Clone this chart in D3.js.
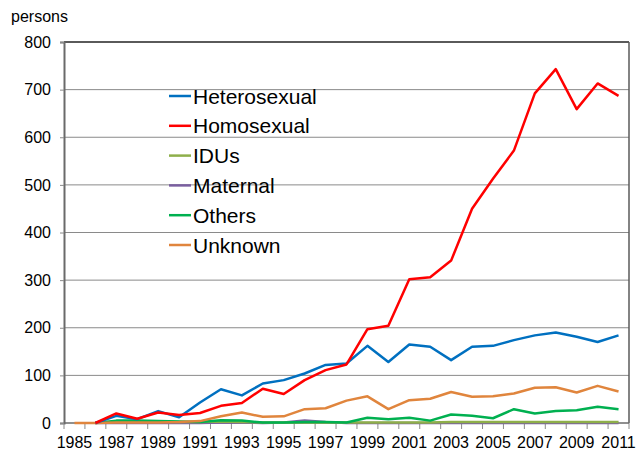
<!DOCTYPE html>
<html>
<head>
<meta charset="utf-8">
<script src="https://cdn.jsdelivr.net/npm/d3@7"></script>
<style>
  body { margin: 0; background: #fff; }
  svg { display: block; font-family: "Liberation Sans", Arial, sans-serif; }
</style>
</head>
<body>
<svg width="637" height="453"></svg>
<script>
var years = d3.range(1985, 2012);
var yTicks = [0, 100, 200, 300, 400, 500, 600, 700, 800];

// null = no value reported for that year
var heterosexual = [null, 0, 15, 8, 25, 12, 43, 71, 58, 83, 90, 104, 122, 125, 162, 128, 165, 160, 132, 160, 162, 174, 184, 190, 181, 170, 184];
var homosexual   = [null, 0, 20, 9, 22, 17, 21, 36, 42, 72, 61, 90, 111, 123, 197, 204, 302, 306, 341, 450, 513, 572, 692, 743, 659, 713, 687];
var idus         = [null, 0, 3, 3, 3, 2, 2, 3, 2, 1, 1, 1, 1, 1, 1, 1, 1, 1, 2, 2, 2, 2, 2, 2, 2, 2, 2];
var maternal     = [null, 0, 0, 0, 0, 0, 0, 1, 1, 0, 1, 5, 2, 0, 0, 0, 0, 0, 0, 0, 0, 0, 0, 0, 0, 0, 0];
var others       = [null, 0, 5, 5, 4, 3, 2, 6, 5, 1, 1, 2, 2, 1, 11, 8, 11, 5, 18, 15, 10, 29, 20, 25, 27, 34, 29];
var unknown      = [0, 0, 1, 1, 1, 2, 4, 14, 22, 13, 14, 29, 31, 47, 56, 29, 48, 51, 65, 55, 56, 62, 74, 75, 64, 78, 66];

var seriesNames = ["Heterosexual", "Homosexual", "IDUs", "Maternal", "Others", "Unknown"];
var seriesValues = [heterosexual, homosexual, idus, maternal, others, unknown];
var colors = ["#0070C0", "#FF0000", "#8EAF4A", "#7A5FA0", "#00B050", "#E0853D"];

var svg = d3.select("svg");
var plotLeft = 64, plotRight = 629, plotTop = 42, plotBottom = 423;

var x = d3.scaleBand().domain(years).range([plotLeft, plotRight]);
var y = d3.scaleLinear().domain([0, 800]).range([plotBottom, plotTop]);

// gridlines
svg.append("g")
    .selectAll("line")
    .data(yTicks.filter(function (d) { return d > 0 && d < 800; }))
    .enter().append("line")
    .attr("x1", plotLeft).attr("x2", plotRight)
    .attr("y1", function (d) { return y(d); })
    .attr("y2", function (d) { return y(d); })
    .attr("stroke", "#8a8a8a")
    .attr("stroke-width", 1);

// frame top + right
svg.append("line").attr("x1", plotLeft).attr("x2", plotRight).attr("y1", plotTop).attr("y2", plotTop)
    .attr("stroke", "#5a5a5a").attr("stroke-width", 2);
svg.append("line").attr("x1", plotRight).attr("x2", plotRight).attr("y1", plotTop).attr("y2", plotBottom)
    .attr("stroke", "#5a5a5a").attr("stroke-width", 1.5);

// y axis
var yAxis = svg.append("g")
    .attr("transform", "translate(" + plotLeft + ",0)")
    .call(d3.axisLeft(y).tickValues(yTicks).tickSize(4).tickPadding(9));
yAxis.select(".domain").attr("stroke", "#6a6a6a").attr("stroke-width", 2);
yAxis.selectAll(".tick line").attr("stroke", "#8a8a8a");
yAxis.attr("font-size", 16).attr("font-family", "Liberation Sans, Arial, sans-serif");
yAxis.selectAll("text").attr("fill", "#000");

// x axis labels (every other year)
var xAxis = svg.append("g")
    .attr("transform", "translate(0," + plotBottom + ")")
    .call(d3.axisBottom(x).tickSize(0).tickPadding(14)
        .tickFormat(function (d) { return (d - 1985) % 2 === 0 ? d : ""; }));
xAxis.select(".domain").remove();
xAxis.attr("font-size", 16).attr("font-family", "Liberation Sans, Arial, sans-serif");
xAxis.selectAll("text").attr("fill", "#000");

// x tick marks at category boundaries
svg.append("g")
    .selectAll("line")
    .data(years.concat([2012]))
    .enter().append("line")
    .attr("x1", function (d) { return d === 2012 ? plotRight : x(d); })
    .attr("x2", function (d) { return d === 2012 ? plotRight : x(d); })
    .attr("y1", plotBottom).attr("y2", plotBottom + 6)
    .attr("stroke", "#8a8a8a");

svg.append("line").attr("x1", plotLeft).attr("x2", plotRight).attr("y1", plotBottom).attr("y2", plotBottom)
    .attr("stroke", "#6a6a6a").attr("stroke-width", 1.5);

// lines
var line = d3.line()
    .defined(function (d) { return d !== null; })
    .x(function (d, i) { return x(years[i]) + x.bandwidth() / 2; })
    .y(function (d) { return y(d); });

var drawOrder = [3, 2, 4, 5, 0, 1];
drawOrder.forEach(function (k) {
    svg.append("path")
        .datum(seriesValues[k])
        .attr("fill", "none")
        .attr("stroke", colors[k])
        .attr("stroke-width", 2.5)
        .attr("stroke-linejoin", "round")
        .attr("d", line);
});

// unit label
svg.append("text").attr("x", 11).attr("y", 22).attr("font-size", 16).text("persons");

// legend
var legend = svg.append("g");
seriesNames.forEach(function (name, i) {
    var ly = 96 + i * 29.8;
    legend.append("line").attr("x1", 169).attr("x2", 191).attr("y1", ly).attr("y2", ly)
        .attr("stroke", colors[i]).attr("stroke-width", 2.5);
    legend.append("text").attr("x", 193).attr("y", ly + 7.5).attr("font-size", 21)
        .attr("fill", "#000").text(name);
});
</script>
</body>
</html>
